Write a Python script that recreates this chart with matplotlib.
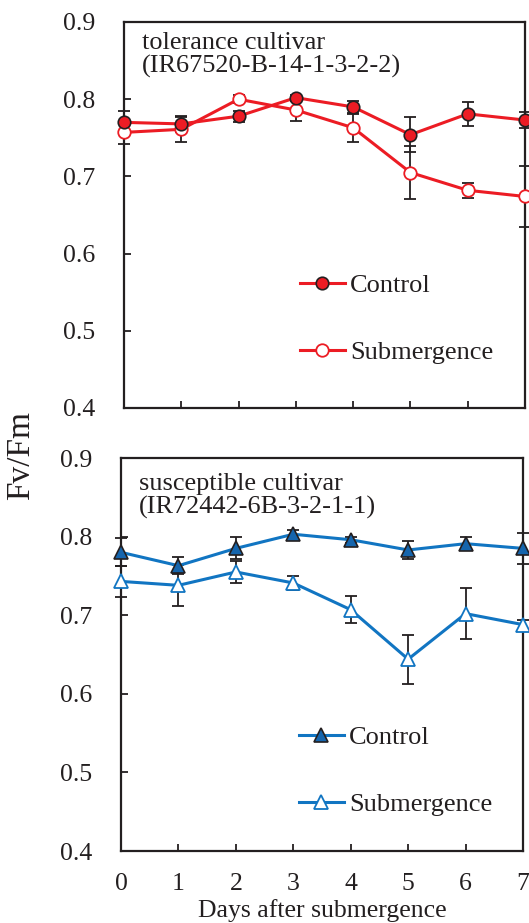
import numpy as np
import matplotlib.pyplot as plt

plt.rcParams["font.family"] = ["Liberation Serif", "DejaVu Serif"]

# ── Data ──────────────────────────────────────────────────────────────────────
days = [0, 1, 2, 3, 4, 5, 6, 7]

tol_control     = [0.770, 0.768, 0.778, 0.802, 0.790, 0.754, 0.781, 0.773]
tol_control_err = [0.015, 0.010, 0.007, 0.004, 0.008, 0.023, 0.016, 0.010]
tol_sub         = [0.757, 0.761, 0.800, 0.786, 0.763, 0.705, 0.682, 0.674]
tol_sub_err     = [0.015, 0.016, 0.005, 0.014, 0.018, 0.034, 0.010, 0.039]

sus_control     = [0.780, 0.763, 0.785, 0.803, 0.796, 0.783, 0.791, 0.785]
sus_control_err = [0.018, 0.011, 0.014, 0.005, 0.004, 0.012, 0.008, 0.020]
sus_sub         = [0.743, 0.738, 0.755, 0.741, 0.707, 0.644, 0.702, 0.688]
sus_sub_err     = [0.020, 0.026, 0.014, 0.009, 0.017, 0.031, 0.032, 0.006]

y_ticks = [0.4, 0.5, 0.6, 0.7, 0.8, 0.9]

RED = "#ec1c24"
BLUE = "#1175c2"
BLUE_FILL = "#1565ad"
INK = "#231f20"

W, H = 529, 923
fig = plt.figure(figsize=(W / 100, H / 100), dpi=100)

# axes positions in pixels: left, top, right, bottom
ax1 = fig.add_axes([124 / W, 1 - 408 / H, (525 - 124) / W, (408 - 22) / H])
ax2 = fig.add_axes([121 / W, 1 - 851 / H, (523 - 121) / W, (851 - 458) / H])


def draw_panel(ax, ctrl, ctrl_err, sub, sub_err, color, marker, ctrl_face,
               title, title_y, leg_xy):
    ax.errorbar(days, ctrl, yerr=ctrl_err, fmt="none", ecolor=INK,
                elinewidth=1.3, capsize=4, capthick=1.3, zorder=2, clip_on=False)
    ax.errorbar(days, sub, yerr=sub_err, fmt="none", ecolor=INK,
                elinewidth=1.3, capsize=4, capthick=1.3, zorder=2, clip_on=False)
    ms = 9 if marker == "o" else 10
    ax.plot(days, ctrl, color=color, linewidth=2.2, marker=marker, ms=ms,
            mfc=ctrl_face, mec=INK, mew=1.2, zorder=4, clip_on=False,
            label="Control")
    ax.plot(days, sub, color=color, linewidth=2.2, marker=marker, ms=ms,
            mfc="white", mec=color, mew=1.3, zorder=3, clip_on=False,
            label="Submergence")

    ax.set_xlim(0, 7)
    ax.set_ylim(0.4, 0.9)
    ax.set_xticks(days)
    ax.set_yticks(y_ticks)
    ax.set_yticklabels([f"{v:.1f}" for v in y_ticks])
    ax.tick_params(direction="in", length=5, width=1.3, labelsize=18.5,
                   colors=INK)
    ax.tick_params(axis="y", pad=21)
    ax.tick_params(axis="x", pad=16)
    for sp in ax.spines.values():
        sp.set_linewidth(1.6)
        sp.set_color(INK)

    ax.text(0.045, title_y, title, transform=ax.transAxes, ha="left", va="top",
            fontsize=18.9, color=INK, linespacing=1.08)

    ax.legend(loc="upper left", bbox_to_anchor=(leg_xy[0] / W, 1 - leg_xy[1] / H),
              bbox_transform=fig.transFigure, frameon=False, borderpad=0,
              borderaxespad=0, fontsize=19, handlelength=1.7, handletextpad=0.2,
              labelspacing=1.65, labelcolor=INK)


draw_panel(ax1, tol_control, tol_control_err, tol_sub, tol_sub_err,
           RED, "o", RED, "tolerance cultivar\n(IR67520-B-14-1-3-2-2)",
           0.975, (300, 274))
draw_panel(ax2, sus_control, sus_control_err, sus_sub, sus_sub_err,
           BLUE, "^", BLUE_FILL, "susceptible cultivar\n(IR72442-6B-3-2-1-1)",
           0.962, (299, 726))

ax1.tick_params(labelbottom=False)
ax2.set_xlabel("Days after submergence", fontsize=18.5, color=INK, labelpad=3)

fig.text(21 / W, 1 - 455 / H, "Fv/Fm", rotation=90, ha="center", va="center",
         fontsize=24, color=INK)

plt.savefig("out.png", dpi=100)
